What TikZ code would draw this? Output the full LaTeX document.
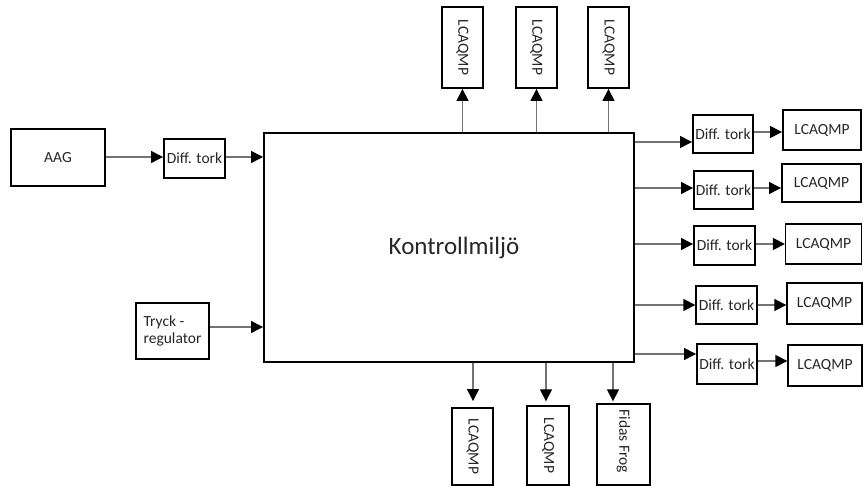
\documentclass[tikz,border=0pt]{standalone}
\usepackage{fontspec}
\setmainfont{Carlito}
\usetikzlibrary{arrows.meta}

\tikzset{
  box/.style={draw=black, line width=1.3pt, rectangle, inner sep=0pt,
    text=black!85, font=\fontsize{15.5}{17}\selectfont},
  thickbox/.style={box, line width=1.9pt},
  arr/.style={draw=black!55, line width=1.3pt,
    -{Triangle[length=12pt,width=12pt,color=black]}},
}

\begin{document}
\begin{tikzpicture}[x=1pt,y=-1pt]
\path[use as bounding box] (0,0) rectangle (863,486);

% central block
\node[thickbox, minimum width=370pt, minimum height=229pt,
  font=\fontsize{25}{29}\selectfont] (main) at (449,247.5) {\hspace{10pt}Kontrollmiljö};

% left inputs
\node[box, minimum width=94pt, minimum height=57pt] (aag) at (58,157.5) {AAG};
\node[thickbox, minimum width=61pt, minimum height=39pt] (dl) at (194.5,158.5) {Diff. tork};
\node[box, minimum width=73pt, minimum height=56pt, align=left] (tryck) at (172.5,331)
  {Tryck -\\regulator};

\draw[arr] (aag.east |- 0,157) -- (dl.west |- 0,157);
\draw[arr] (dl.east |- 0,157) -- (main.west |- 0,157);
\draw[arr] (tryck.east |- 0,327) -- (main.west |- 0,327);

% top outputs
\foreach \n/\x in {t1/462.5, t2/536.5, t3/608.5}{
  \node[thickbox, minimum width=41pt, minimum height=81pt] (\n) at (\x,47.5)
    {\rotatebox{-90}{LCAQMP}};
  \draw[arr] (\n.south |- main.north) -- (\n.south);
}

% right outputs: drying stage followed by instrument
\node[thickbox, minimum width=60pt, minimum height=38pt] (d1) at (723,134) {Diff. tork};
\node[thickbox, minimum width=78pt, minimum height=40pt] (q1) at (822,130) {LCAQMP};
\node[thickbox, minimum width=59pt, minimum height=38pt] (d2) at (723.5,190) {Diff. tork};
\node[thickbox, minimum width=79pt, minimum height=38pt] (q2) at (821.5,183) {LCAQMP};
\node[thickbox, minimum width=61pt, minimum height=39pt] (d3) at (724.5,245.5) {Diff. tork};
\node[box, minimum width=76pt, minimum height=40pt] (q3) at (823.5,244) {LCAQMP};
\node[box, minimum width=61pt, minimum height=38pt] (d4) at (726.5,305) {Diff. tork};
\node[box, minimum width=75pt, minimum height=41pt] (q4) at (824.5,303.5) {LCAQMP};
\node[thickbox, minimum width=60pt, minimum height=40pt] (d5) at (727,364) {Diff. tork};
\node[box, minimum width=74pt, minimum height=41pt] (q5) at (825,365.5) {LCAQMP};

\coordinate (r1) at (main.east |- 0,142);
\coordinate (r2) at (main.east |- 0,188);
\coordinate (r3) at (main.east |- 0,244);
\coordinate (r4) at (main.east |- 0,305);
\coordinate (r5) at (main.east |- 0,354);

\foreach \i in {1,...,5}{
  \draw[arr] (r\i) -- (r\i -| d\i.west);
}
\draw[arr] (d1.east |- 0,132) -- (q1.west |- 0,132);
\draw[arr] (d2.east |- 0,188) -- (q2.west |- 0,188);
\draw[arr] (d3.east |- 0,244) -- (q3.west |- 0,244);
\draw[arr] (d4.east |- 0,305) -- (q4.west |- 0,305);
\draw[arr] (d5.east |- 0,361) -- (q5.west |- 0,361);

% bottom outputs
\node[thickbox, minimum width=41pt, minimum height=77pt] (b1) at (472.5,446.5)
  {\rotatebox{-90}{LCAQMP}};
\node[box, minimum width=42pt, minimum height=79pt] (b2) at (548,445.5)
  {\rotatebox{-90}{LCAQMP}};
\node[box, minimum width=53pt, minimum height=81pt] (b3) at (623.5,444.5)
  {\rotatebox{-90}{Fidas Frog\hspace{6pt}}};

\coordinate (s1) at (473,0 |- main.south);
\coordinate (s2) at (546,0 |- main.south);
\coordinate (s3) at (613,0 |- main.south);
\draw[arr, shorten >=6pt] (s1) -- (s1 |- b1.north);
\draw[arr, shorten >=4pt] (s2) -- (s2 |- b2.north);
\draw[arr, shorten >=2pt] (s3) -- (s3 |- b3.north);
\end{tikzpicture}
\end{document}
